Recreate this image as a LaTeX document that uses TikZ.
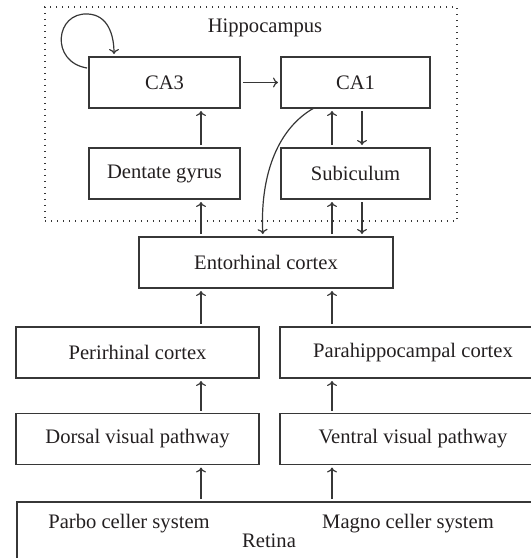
\documentclass[tikz,border=0pt]{standalone}
\usepackage{fontspec}
\setmainfont{Liberation Serif}
\usepackage{tikz}
\usetikzlibrary{arrows.meta}

\begin{document}
\begin{tikzpicture}[x=0.5pt,y=-0.5pt,
  areabox/.style={draw=cline,line width=0.6pt,inner sep=0pt,outer sep=0pt,
    minimum height=25.5pt,text=ctext,font=\fontsize{10.3}{12}\selectfont},
  plain/.style={text=ctext,font=\fontsize{10.3}{12}\selectfont},
  link/.style={draw=cline,line width=0.6pt,-{To[width=5pt,length=2.5pt]},
    shorten <=1.5pt,shorten >=1.5pt}]
  \definecolor{cline}{RGB}{55,55,55}
  \definecolor{ctext}{RGB}{35,31,32}
  \useasboundingbox (0,0) rectangle (531,558);
  % hippocampus frame
  \node[draw=cline,line width=0.6pt,dash pattern=on 0.6pt off 2.4pt,
    minimum width=206pt,minimum height=107pt,inner sep=0pt] (hippo) at (251,114) {};
  \node[plain] (hippolabel) at (265,28) {Hippocampus};
  \node[areabox,minimum width=75.5pt] (ca3) at (164.5,82.5) {CA3};
  \node[areabox,minimum width=74.5pt] (ca1) at (355.5,82.5) {CA1};
  \node[areabox,minimum width=75.5pt] (dg) at (164.5,173.5) {Dentate gyrus};
  \node[areabox,minimum width=74.5pt] (sub) at (355.5,173.5) {Subiculum};
  % cortex and visual stream
  \node[areabox,minimum width=127pt] (ent) at (266,262.5) {Entorhinal cortex};
  \node[areabox,minimum width=121.5pt] (peri) at (137.5,352.5) {Perirhinal cortex};
  \node[areabox,minimum width=133pt] (para) at (413,352.5) {Parahippocampal cortex};
  \node[areabox,minimum width=121.5pt] (dorsal) at (137.5,439) {Dorsal visual pathway};
  \node[areabox,minimum width=133pt] (ventral) at (413,439) {Ventral visual pathway};
  \node[areabox,minimum width=276.5pt,minimum height=49pt] (retina) at (293.5,551) {};
  \node[plain] (parbo) at (129,524) {Parbo celler system};
  \node[plain] (magno) at (408,524) {Magno celler system};
  \node[plain] (retinalabel) at (269,541) {Retina};
  % arrow columns
  \coordinate (colA) at (201,0);
  \coordinate (colB) at (332,0);
  \coordinate (colC) at (362,0);
  \coordinate (loopstart) at (87,68);
  \coordinate (loopend) at (114,0);
  \coordinate (bendstart) at (314,0);
  \coordinate (bendend) at (263,0);
  \foreach \lo/\hi in {dg/ca3,ent/dg,peri/ent,dorsal/peri,retina/dorsal}{%
    \draw[link] (\lo.north -| colA) -- (\hi.south -| colA);
  }
  \foreach \lo/\hi in {sub/ca1,ent/sub,para/ent,ventral/para,retina/ventral}{%
    \draw[link] (\lo.north -| colB) -- (\hi.south -| colB);
  }
  \draw[link] (ca1.south -| colC) -- (sub.north -| colC);
  \draw[link] (sub.south -| colC) -- (ent.north -| colC);
  \draw[link] (ca3.east) -- (ca1.west);
  \draw[link,shorten <=0pt] (ca1.south -| bendstart) .. controls (275,130) and (260,180) .. (ent.north -| bendend);
  \draw[link,shorten <=0pt] (loopstart) .. controls (50,62) and (55,12) .. (88,14)
    .. controls (108,15) and (114,35) .. (ca3.north -| loopend);
\end{tikzpicture}
\end{document}
